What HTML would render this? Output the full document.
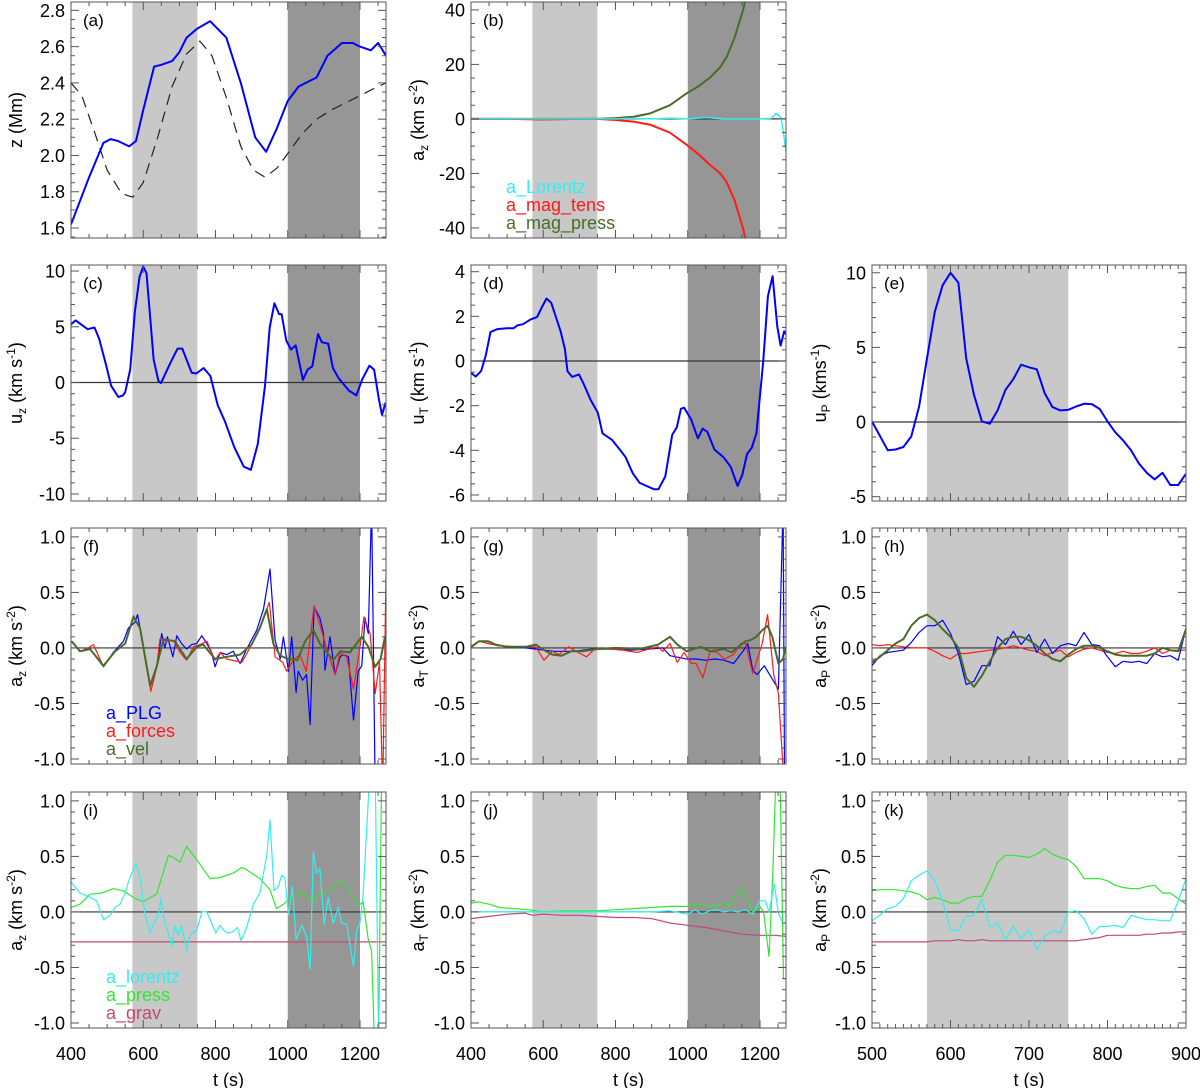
<!DOCTYPE html>
<html><head><meta charset="utf-8">
<style>
html,body{margin:0;padding:0;background:#fff;}
svg{display:block;font-family:"Liberation Sans",Arial,sans-serif;}
</style></head>
<body>
<svg id="fig" width="1200" height="1088" viewBox="0 0 1200 1088" xmlns="http://www.w3.org/2000/svg"></svg>
<script>
// ---------- DATA ----------
const aT=[400,450,490,510,530,561,580,600,630,650,680,700,720,750,785,830,870,910,940,970,1000,1030,1050,1080,1110,1150,1180,1200,1230,1250,1272];
const aZ=[1.62,1.88,2.07,2.09,2.08,2.05,2.08,2.25,2.49,2.50,2.52,2.57,2.65,2.70,2.74,2.65,2.40,2.10,2.02,2.15,2.30,2.38,2.40,2.43,2.55,2.62,2.62,2.60,2.58,2.62,2.55];
const aDT=[400,430,470,500,540,571,600,640,680,720,757,790,830,870,905,937,970,1000,1040,1080,1120,1160,1200,1240,1272];
const aD=[2.40,2.33,2.10,1.92,1.79,1.77,1.85,2.10,2.38,2.56,2.63,2.55,2.32,2.05,1.92,1.88,1.93,2.01,2.12,2.20,2.25,2.29,2.33,2.37,2.40];

const bT=[400,500,600,700,750,800,850,895,950,997,1030,1062,1090,1108,1130,1154,1170];
const bPress=[0,0,0,0,0,0.3,0.8,2.0,5.0,9.4,12,15.2,19,22.8,30,40.4,50];
const bTens=[0,0,-0.2,0,0,-0.4,-1.0,-2.1,-5.0,-9.5,-13,-16.9,-20,-23.3,-30,-40.6,-50];
const bLT=[400,600,700,800,850,900,950,1000,1050,1100,1150,1200,1230,1245,1258,1265,1272];
const bLor=[0,0,0,0,0.2,0,0.3,0,0.5,0,0,0,0.2,2.0,0.5,-5,-12];

const cT=[400,413,446,465,478,498,511,531,544,550,564,577,590,600,609,629,642,649,675,695,708,734,747,767,786,806,826,852,878,898,917,937,950,963,976,983,996,1009,1022,1042,1055,1068,1084,1094,1112,1125,1140,1169,1190,1206,1226,1239,1252,1261,1271];
const cU=[5.22,5.57,4.78,4.93,3.91,1.45,-0.29,-1.30,-1.16,-0.87,1.16,6.38,9.5,10.4,9.8,2.03,0.14,-0.06,1.74,3.04,3.04,0.87,0.81,1.30,0.58,-2.03,-3.48,-5.80,-7.54,-7.83,-5.51,-0.29,4.93,7.10,6.14,6.14,3.77,2.96,3.33,0.23,1.16,1.45,4.35,3.62,3.48,1.30,0.43,-0.72,-1.16,0.29,1.51,1.16,-1.45,-2.90,-1.80];

const dT=[400,413,428,441,454,473,499,518,529,544,564,583,596,609,622,635,648,660,667,680,699,712,731,751,764,790,815,828,848,867,886,906,919,938,957,970,981,990,1009,1028,1041,1054,1074,1099,1119,1138,1151,1164,1177,1190,1209,1222,1235,1248,1257,1267,1272];
const dU=[-0.53,-0.7,-0.45,0.25,1.3,1.43,1.47,1.47,1.6,1.65,1.85,1.97,2.4,2.8,2.61,1.97,1.33,0.54,-0.46,-0.71,-0.6,-1.03,-1.74,-2.31,-3.24,-3.53,-4.03,-4.31,-5.03,-5.46,-5.6,-5.74,-5.74,-5.17,-3.31,-2.96,-2.14,-2.09,-2.6,-3.46,-3.03,-3.17,-3.97,-4.31,-4.74,-5.6,-5.1,-4.17,-3.89,-3.24,-0.03,2.9,3.8,1.54,0.69,1.33,1.2];

const eT=[500,520,530,540,550,560,570,580,590,600,610,620,630,640,650,660,670,680,690,700,710,720,730,740,750,760,770,780,790,800,810,820,830,840,850,860,870,880,890,900];
const eU=[0.04,-1.89,-1.84,-1.67,-0.96,1.04,4.27,7.38,9.16,10.0,9.33,4.27,1.82,0.04,-0.11,0.78,2.16,2.87,3.84,3.67,3.53,1.93,1.0,0.78,0.82,1.04,1.22,1.2,0.87,0.04,-0.69,-1.24,-1.89,-2.78,-3.4,-3.84,-3.4,-4.22,-4.22,-3.47];

const fVT=[402,425,453,490,522,550,573,591,619,637,656,688,720,748,766,799,831,868,900,923,942,960,979,1002,1027,1048,1071,1089,1108,1126,1145,1172,1205,1223,1242,1257,1269];
const fVel=[0.06,-0.03,-0.01,-0.16,-0.03,0.04,0.28,0.18,-0.34,-0.17,0.08,0.06,-0.10,0.01,0.03,-0.10,-0.08,-0.06,0.03,0.18,0.35,0.04,-0.07,-0.10,-0.11,0.06,0.16,0.04,-0.04,-0.11,-0.03,-0.04,0.10,0.01,-0.17,-0.10,0.10];
const fFT=[402,425,448,462,490,522,550,573,591,621,637,646,665,683,702,720,739,757,776,799,813,831,873,900,923,949,965,986,997,1015,1034,1051,1073,1089,1108,1131,1145,1163,1182,1200,1211,1228,1242,1254,1263,1272];
const fFor=[0.06,-0.03,0.0,0.03,-0.17,-0.03,0.04,0.29,0.18,-0.39,-0.18,0.08,0.06,0.07,-0.04,-0.11,0.01,0.03,0.06,-0.11,-0.04,-0.10,-0.13,0.03,0.18,0.41,-0.08,-0.13,-0.21,-0.11,-0.06,-0.21,0.38,0.21,-0.01,-0.24,-0.04,-0.08,-0.37,0.01,0.28,0.13,-0.41,-0.13,-1.3,0.66];
const fPT=[402,425,453,490,517,545,559,577,584,596,619,637,651,660,667,682,693,706,720,734,748,762,776,789,799,813,831,849,868,886,914,933,951,965,979,988,1002,1011,1023,1029,1041,1052,1062,1073,1089,1099,1103,1117,1131,1145,1154,1168,1182,1195,1205,1214,1223,1232,1242,1246];
const fPLG=[0.06,-0.03,-0.01,-0.17,-0.04,0.06,0.18,0.23,0.30,0.10,-0.35,-0.18,0.13,0.0,0.10,-0.08,0.11,0.04,-0.01,0.03,0.04,0.11,0.04,-0.04,-0.17,-0.04,-0.06,-0.03,-0.14,-0.01,0.16,0.35,0.71,0.07,-0.10,0.10,-0.21,0.10,-0.40,-0.21,-0.29,-0.24,-0.69,0.37,0.27,0.13,-0.20,0.10,-0.24,-0.08,-0.06,-0.08,-0.65,-0.21,-0.16,0.27,0.13,1.3,-1.3,-1.3];

const gVT=[400,422,448,468,500,552,579,598,625,651,677,709,748,801,866,918,951,971,997,1036,1062,1101,1121,1140,1160,1173,1190,1206,1221,1234,1251,1264,1271];
const gVel=[0.01,0.06,0.06,0.03,0.01,0.01,0.03,-0.01,-0.06,-0.07,-0.03,-0.03,-0.01,0,-0.01,0.03,0.10,0.03,-0.03,0.01,-0.03,-0.01,-0.04,0.01,0.06,0.07,0.10,0.16,0.20,0.10,-0.14,-0.10,0.01];
const gFT=[400,422,448,474,527,579,602,625,644,670,696,720,742,762,788,820,860,892,918,931,951,971,990,1010,1023,1042,1062,1082,1101,1127,1147,1160,1180,1206,1221,1238,1251,1268];
const gFor=[0,0.06,0.04,0.02,0.01,0.01,-0.11,-0.03,-0.06,0.01,-0.04,-0.08,-0.01,0,-0.01,-0.02,-0.04,-0.01,0.01,-0.03,0.04,-0.13,-0.04,-0.14,-0.14,-0.27,-0.03,-0.04,-0.10,-0.06,0.04,0.04,-0.23,0.04,0.30,-0.24,-0.41,-1.3];
const gPT=[400,422,448,474,527,579,631,683,735,788,840,892,931,951,997,1023,1049,1075,1101,1127,1153,1166,1180,1192,1212,1232,1251,1264,1268,1272];
const gPLG=[0.01,0.06,0.06,0.02,0.01,-0.01,-0.03,-0.03,-0.01,-0.01,-0.02,-0.01,0,-0.07,-0.10,-0.10,-0.11,-0.10,-0.11,-0.14,-0.03,0.04,-0.20,-0.24,-0.16,-0.27,-0.37,1.3,-1.3,-1.3];

const hT=[500,510,520,530,540,550,560,570,580,590,600,610,620,630,640,650,660,670,680,690,700,710,720,730,740,750,760,770,780,790,800,810,820,830,840,850,860,870,880,890,900];
const hVel=[-0.13,-0.08,-0.02,0.04,0.08,0.2,0.27,0.3,0.25,0.17,0.1,0.0,-0.27,-0.35,-0.25,-0.12,0.0,0.08,0.1,0.1,0.07,0.02,-0.05,-0.1,-0.12,-0.06,-0.01,0.02,0.02,0.0,-0.03,-0.06,-0.07,-0.07,-0.07,-0.07,-0.05,0.0,-0.02,-0.03,0.17];
const hPLG=[-0.16,-0.07,-0.04,-0.03,-0.02,0.05,0.14,0.2,0.2,0.25,0.13,-0.05,-0.33,-0.3,-0.16,-0.16,0.1,0.03,0.15,0.03,0.12,-0.04,0.08,-0.05,0.02,0.04,0.02,0.14,0.03,0.02,-0.08,-0.17,-0.12,-0.13,-0.12,-0.14,-0.05,-0.08,-0.07,-0.11,0.18];
const hFor=[0.03,0.02,0.03,0.02,0.01,0.0,0.0,0.0,-0.03,-0.07,-0.1,-0.05,-0.05,-0.04,-0.03,-0.02,-0.01,0.0,0.02,0.0,-0.02,-0.03,-0.07,-0.04,-0.02,-0.08,-0.04,-0.01,0.0,-0.02,-0.04,-0.05,-0.03,-0.05,-0.05,-0.03,0.0,-0.05,-0.02,-0.02,-0.02];

const iLT=[400,425,448,471,490,508,522,536,550,562,580,591,605,619,633,642,649,656,665,679,688,697,706,720,729,739,748,762,776,789,801,813,824,833,847,861,871,886,905,923,942,951,962,974,983,992,1002,1013,1023,1039,1052,1062,1071,1080,1089,1101,1112,1126,1140,1149,1163,1182,1191,1200,1209,1228,1242,1252,1272];
const iLor=[0.27,0.17,0.14,0.10,-0.07,-0.03,0.04,0.07,0.17,0.30,0.44,0.31,-0.03,-0.19,-0.08,-0.03,0.12,-0.05,-0.14,-0.31,-0.12,-0.21,-0.12,-0.35,-0.22,-0.18,-0.17,0.0,0.0,-0.10,-0.19,-0.12,-0.17,-0.19,-0.18,-0.14,-0.26,-0.14,0.07,0.17,0.51,0.83,0.19,0.23,0.33,0.31,-0.03,0.23,-0.25,-0.12,-0.22,-0.52,0.54,0.35,0.39,-0.11,0.13,-0.10,0.04,-0.10,-0.11,-0.49,-0.17,-0.10,0.17,1.3,1.3,-1.3,-1.3];
const iPT=[400,425,453,485,517,545,573,600,614,637,670,683,702,720,748,785,813,849,873,886,923,951,969,988,1006,1043,1066,1089,1122,1140,1163,1177,1196,1209,1223,1232,1241,1251,1260,1272];
const iPress=[0.04,0.07,0.16,0.17,0.21,0.19,0.13,0.09,0.12,0.16,0.51,0.49,0.45,0.59,0.47,0.30,0.31,0.35,0.40,0.38,0.30,0.20,0.03,0.07,0.12,0.17,0.10,0.16,0.20,0.27,0.24,0.14,0.06,0.09,-0.25,-0.35,-1.3,-1.3,1.3,1.3];
const iGT=[400,1272];
const iGrav=[-0.27,-0.27];

const jPT=[400,420,450,480,520,560,600,650,700,750,800,850,900,950,1000,1030,1060,1080,1100,1115,1130,1150,1160,1180,1200,1210,1225,1235,1245,1255,1265,1272];
const jPress=[0.08,0.09,0.07,0.04,0.03,0.02,0.0,0.01,0.01,0.01,0.02,0.03,0.04,0.05,0.05,0.07,0.05,0.06,0.08,0.05,0.14,0.22,0.13,0.0,0.05,0.0,-0.4,0.3,1.3,1.3,-0.6,-0.6];
const jLT=[400,900,950,1000,1020,1040,1060,1080,1100,1120,1140,1160,1180,1200,1215,1225,1240,1250,1262,1272];
const jLor=[0,0,0.01,-0.02,0.02,-0.02,0.01,0.02,0.0,0.01,0.0,0.02,-0.02,0.1,0.1,0.0,0.25,0.0,-0.1,-0.1];
const jGT=[400,450,500,550,570,600,650,700,750,800,850,900,950,1000,1050,1100,1150,1200,1240,1272];
const jGrav=[-0.06,-0.04,-0.02,-0.01,-0.03,-0.02,-0.03,-0.03,-0.04,-0.05,-0.05,-0.06,-0.10,-0.12,-0.14,-0.17,-0.20,-0.21,-0.21,-0.22];

const kPress=[0.19,0.2,0.2,0.2,0.19,0.18,0.16,0.11,0.13,0.11,0.08,0.08,0.12,0.14,0.14,0.28,0.45,0.51,0.51,0.5,0.49,0.52,0.57,0.52,0.49,0.47,0.41,0.3,0.3,0.3,0.28,0.24,0.22,0.21,0.21,0.23,0.24,0.17,0.17,0.12,0.07];
const kLor=[-0.08,-0.03,0.03,0.05,0.12,0.28,0.33,0.37,0.28,0.1,-0.16,-0.17,-0.04,-0.03,0.11,-0.13,-0.1,-0.25,-0.13,-0.24,-0.16,-0.34,-0.22,-0.17,-0.19,0.0,0.01,-0.06,-0.2,-0.13,-0.13,-0.12,-0.14,-0.03,-0.05,-0.07,-0.07,-0.08,-0.08,0.1,0.3];
const kGrav=[-0.27,-0.27,-0.27,-0.27,-0.27,-0.27,-0.27,-0.27,-0.26,-0.26,-0.26,-0.25,-0.26,-0.26,-0.25,-0.26,-0.26,-0.26,-0.26,-0.26,-0.26,-0.26,-0.26,-0.26,-0.26,-0.26,-0.26,-0.25,-0.24,-0.23,-0.21,-0.21,-0.21,-0.21,-0.21,-0.2,-0.2,-0.19,-0.19,-0.18,-0.18];

// ---------- RENDERING ----------
const NS="http://www.w3.org/2000/svg";
const svg=document.getElementById('fig');
function el(tag,attrs,parent){const e=document.createElementNS(NS,tag);for(const k in attrs)e.setAttribute(k,attrs[k]);(parent||svg).appendChild(e);return e;}

const COLX=[71,471,872], ROWY=[2,265,528,792], W=315, H=236;
const C_BLUE="#0000ff",C_RED="#ff1a1a",C_VEL="#4a6b2a",C_CYAN="#33eeee",C_PRESS="#33e633",C_GRAV="#c04a70";

function makePanel(id,col,row,tmin,tmax,ymin,ymax,opts){
  const x0=COLX[col],y0=ROWY[row],w=(col==2?314:W);
  const p={id,x0,y0,w,h:H,tmin,tmax,ymin,ymax};
  p.sx=t=>x0+(t-tmin)/(tmax-tmin)*w;
  p.sy=v=>y0+H-(v-ymin)/(ymax-ymin)*H;
  const g=el('g',{});
  
  
  p.g=g;
  const cp=el('clipPath',{id:'clip-'+id},g);
  el('rect',{x:x0,y:y0,width:w,height:H},cp);
  p.plot=el('g',{'clip-path':'url(#clip-'+id+')'},g);
  (opts.bands||[]).forEach(b=>{
    const r=el('rect',{x:p.sx(b[0]),y:y0,width:p.sx(b[1])-p.sx(b[0]),height:H,fill:b[2]},p.plot);
    
    
  });
  if(opts.zero){
    const z=el('line',{x1:x0,x2:x0+w,y1:p.sy(0),y2:p.sy(0),stroke:'#333',"stroke-width":1.2},p.plot);
    
    
  }
  return p;
}
function finishPanel(p,opts){
  const g=p.g,{x0,y0,w}=p;
  const ax=el('g',{stroke:'#555',"stroke-width":1,fill:'none'},g);
  
  
  el('rect',{x:x0,y:y0,width:w,height:H},ax);
  for(let t=Math.ceil(p.tmin/opts.xminor)*opts.xminor;t<=p.tmax+1e-6;t+=opts.xminor){
    const major=Math.abs(t/opts.xmajor-Math.round(t/opts.xmajor))<1e-6;
    const L=major?8:4,x=p.sx(t);
    el('line',{x1:x,x2:x,y1:y0+H,y2:y0+H-L},ax);
    el('line',{x1:x,x2:x,y1:y0,y2:y0+L},ax);
  }
  const ys=opts.ymajor,ym=opts.yminor;
  for(let k=Math.ceil(p.ymin/ym);k*ym<=p.ymax+1e-9;k++){
    const v=k*ym;const major=Math.abs(v/ys-Math.round(v/ys))<1e-6;
    const L=major?8:4,y=p.sy(v);
    el('line',{x1:x0,x2:x0+L,y1:y,y2:y},ax);
    el('line',{x1:x0+w,x2:x0+w-L,y1:y,y2:y},ax);
  }
  opts.ylabels.forEach(v=>{
    const t=el('text',{x:x0-6,y:p.sy(v)+6.5,"text-anchor":"end","font-size":18,fill:'#000'},g);
    t.textContent=opts.yfmt?opts.yfmt(v):String(v);
    
    
  });
  if(opts.xlabels){
    opts.xlabels.forEach(v=>{
      const t=el('text',{x:p.sx(v),y:1060,"text-anchor":"middle","font-size":18,fill:'#000'},g);
      t.textContent=String(v);
      
      
    });
    const tt=el('text',{x:x0+w/2,y:1086,"text-anchor":"middle","font-size":18,fill:'#000'},g);
    tt.textContent='t (s)';
    
    
  }
  const pl=el('text',{x:x0+12,y:y0+24,"font-size":17,fill:'#000'},g);
  pl.textContent='('+p.id+')';
  
  
  const cx=opts.titleX, cy=y0+H/2;
  const yt=el('text',{x:0,y:0,"text-anchor":"middle","font-size":18,fill:'#000',transform:`translate(${cx},${cy}) rotate(-90)`},g);
  
  
  opts.ytitle.forEach(pt=>{
    const s=el('tspan',{},yt);
    s.textContent=pt[0];
    if(pt[1]==='sub'){s.setAttribute('font-size','12');s.setAttribute('baseline-shift','-30%');}
    if(pt[1]==='sup'){s.setAttribute('font-size','12');s.setAttribute('baseline-shift','55%');}
  });
}
function series(p,ts,vs,color,width,name,dash){
  let d='';
  for(let i=0;i<ts.length;i++){d+=(i?'L':'M')+p.sx(ts[i]).toFixed(1)+','+p.sy(vs[i]).toFixed(1);}
  const a={d,fill:'none',stroke:color,"stroke-width":width,"stroke-linejoin":"round"};
  if(dash)a["stroke-dasharray"]=dash;
  const e=el('path',a,p.plot);
  
  
}
function legend(p,x,y,items){
  items.forEach((it,i)=>{
    const t=el('text',{x,y:y+i*18,"font-size":18,fill:it[1]},p.g);
    t.textContent=it[0];
    
    
  });
}
const BANDS=[[570,750,'#c8c8c8','light-shade-band'],[1000,1200,'#969696','dark-shade-band']];
const BANDS3=[[570,750,'#c8c8c8','light-shade-band']];
const TX=[22,424,826];
const acc=(c)=>[['a',''],[c,'sub'],[' (km s',''],['-2','sup'],[')','']];
const f1=v=>v.toFixed(1);
const accOpts=(col,c,xl)=>({xmajor:col==2?100:200,xminor:col==2?10:50,ymajor:0.5,yminor:0.1,ylabels:[1,0.5,0,-0.5,-1],yfmt:f1,titleX:TX[col],ytitle:acc(c),xlabels:xl});

let p=makePanel('a',0,0,400,1272,1.545,2.846,{bands:BANDS});
series(p,aDT,aD,'#222',1.2,'series-dashed-z','11,7');
series(p,aT,aZ,C_BLUE,2,'series-z');
finishPanel(p,{xmajor:200,xminor:50,ymajor:0.2,yminor:0.05,ylabels:[2.8,2.6,2.4,2.2,2.0,1.8,1.6],yfmt:f1,titleX:TX[0],ytitle:[['z (Mm)','']]});

p=makePanel('b',1,0,400,1272,-43.7,42.9,{bands:BANDS,zero:true});
series(p,bT,bPress,C_VEL,2,'series-a-mag-press');
series(p,bT,bTens,C_RED,2,'series-a-mag-tens');
series(p,bLT,bLor,C_CYAN,1.5,'series-a-lorentz');
finishPanel(p,{xmajor:200,xminor:50,ymajor:20,yminor:5,ylabels:[40,20,0,-20,-40],titleX:TX[1],ytitle:acc('z')});
legend(p,506,193,[['a_Lorentz',C_CYAN],['a_mag_tens',C_RED],['a_mag_press',C_VEL]]);

p=makePanel('c',0,1,400,1272,-10.63,10.54,{bands:BANDS,zero:true});
series(p,cT,cU,C_BLUE,2,'series-uz');
finishPanel(p,{xmajor:200,xminor:50,ymajor:5,yminor:1,ylabels:[10,5,0,-5,-10],titleX:TX[0],ytitle:[['u',''],['z','sub'],[' (km s',''],['-1','sup'],[')','']]});

p=makePanel('d',1,1,400,1272,-6.27,4.3,{bands:BANDS,zero:true});
series(p,dT,dU,C_BLUE,2,'series-uT');
finishPanel(p,{xmajor:200,xminor:50,ymajor:2,yminor:0.5,ylabels:[4,2,0,-2,-4,-6],titleX:TX[1],ytitle:[['u',''],['T','sub'],[' (km s',''],['-1','sup'],[')','']]});

p=makePanel('e',2,1,500,900,-5.29,10.52,{bands:BANDS3,zero:true});
series(p,eT,eU,C_BLUE,2,'series-uP');
finishPanel(p,{xmajor:100,xminor:10,ymajor:5,yminor:1,ylabels:[10,5,0,-5],titleX:TX[2],ytitle:[['u',''],['P','sub'],[' (kms',''],['-1','sup'],[')','']]});

p=makePanel('f',0,2,400,1272,-1.045,1.08,{bands:BANDS,zero:true});
series(p,fPT,fPLG,C_BLUE,1.2,'series-a-plg');
series(p,fFT,fFor,C_RED,1.2,'series-a-forces');
series(p,fVT,fVel,C_VEL,2,'series-a-vel');
finishPanel(p,accOpts(0,'z'));
legend(p,106,719,[['a_PLG',C_BLUE],['a_forces',C_RED],['a_vel',C_VEL]]);

p=makePanel('g',1,2,400,1272,-1.045,1.08,{bands:BANDS,zero:true});
series(p,gPT,gPLG,C_BLUE,1.2,'series-a-plg');
series(p,gFT,gFor,C_RED,1.2,'series-a-forces');
series(p,gVT,gVel,C_VEL,2,'series-a-vel');
finishPanel(p,accOpts(1,'T'));

p=makePanel('h',2,2,500,900,-1.045,1.08,{bands:BANDS3,zero:true});
series(p,hT,hFor,C_RED,1.2,'series-a-forces');
series(p,hT,hPLG,C_BLUE,1.2,'series-a-plg');
series(p,hT,hVel,C_VEL,2,'series-a-vel');
finishPanel(p,accOpts(2,'P'));

p=makePanel('i',0,3,400,1272,-1.045,1.08,{bands:BANDS,zero:true});
series(p,iGT,iGrav,C_GRAV,1.2,'series-a-grav');
series(p,iPT,iPress,C_PRESS,1.2,'series-a-press');
series(p,iLT,iLor,C_CYAN,1.2,'series-a-lorentz');
finishPanel(p,accOpts(0,'z',[400,600,800,1000,1200]));
legend(p,106,983,[['a_lorentz',C_CYAN],['a_press',C_PRESS],['a_grav',C_GRAV]]);

p=makePanel('j',1,3,400,1272,-1.045,1.08,{bands:BANDS,zero:true});
series(p,jGT,jGrav,C_GRAV,1.2,'series-a-grav');
series(p,jPT,jPress,C_PRESS,1.2,'series-a-press');
series(p,jLT,jLor,C_CYAN,1.2,'series-a-lorentz');
finishPanel(p,accOpts(1,'T',[400,600,800,1000,1200]));

p=makePanel('k',2,3,500,900,-1.045,1.08,{bands:BANDS3,zero:true});
series(p,hT,kGrav,C_GRAV,1.2,'series-a-grav');
series(p,hT,kPress,C_PRESS,1.2,'series-a-press');
series(p,hT,kLor,C_CYAN,1.2,'series-a-lorentz');
finishPanel(p,accOpts(2,'P',[500,600,700,800,900]));
</script>
</body></html>
